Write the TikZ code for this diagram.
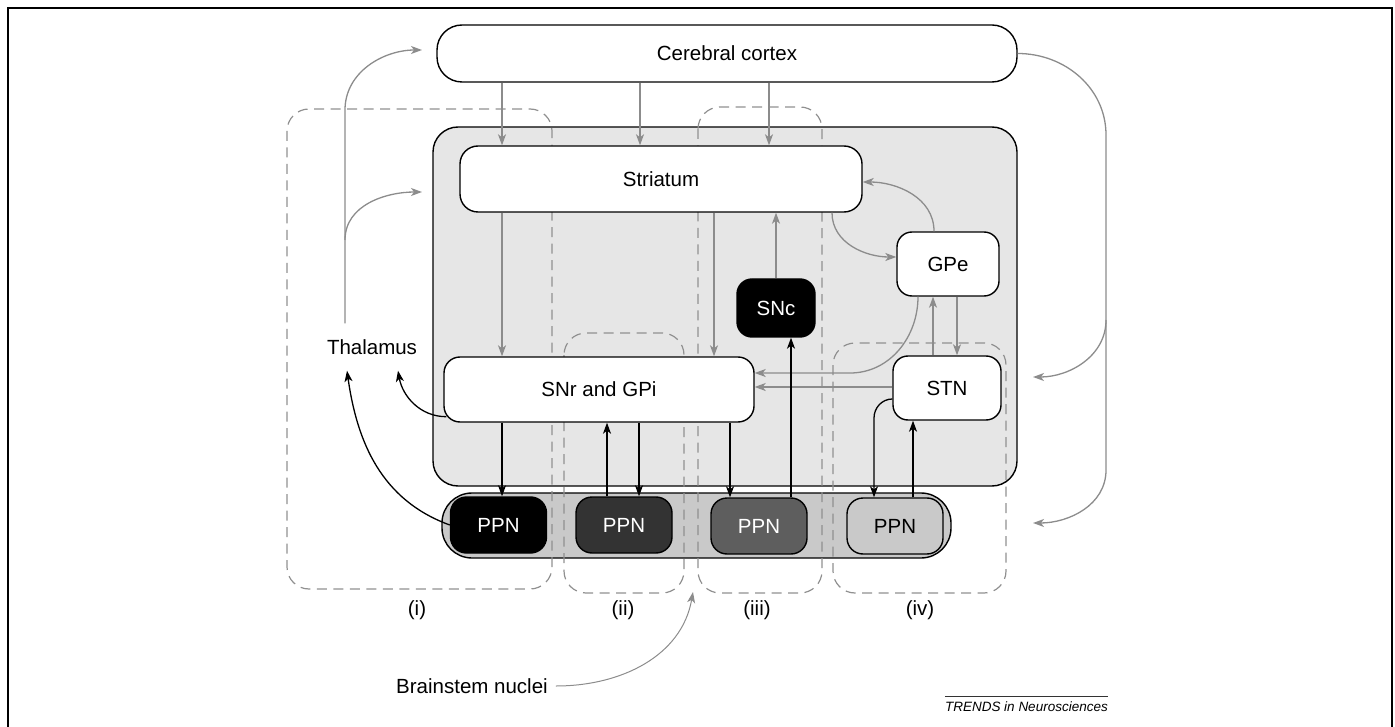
\documentclass[tikz,border=0pt]{standalone}
\usepackage{fontspec}
\setmainfont{Liberation Sans}
\usetikzlibrary{arrows.meta}
\definecolor{gcol}{HTML}{8C8C8C}
\definecolor{dcol}{HTML}{909090}
\definecolor{bgfill}{HTML}{E6E6E6}
\definecolor{barfill}{HTML}{C9C9C9}
\definecolor{ppntwo}{HTML}{333333}
\definecolor{ppnthree}{HTML}{5E5E5E}
\newcommand{\lblfont}{\fontsize{20.5}{24}\selectfont}
\begin{document}
\begin{tikzpicture}[x=1pt,y=-1pt,
  bx/.style={draw=black,line width=1.4pt,fill=white,inner sep=0pt,font=\lblfont},
  gline/.style={draw=gcol,line width=1.3pt,-{Stealth[length=11pt,width=8pt,inset=3pt]}},
  kline/.style={draw=black,line width=1.3pt,-{Stealth[length=11pt,width=8pt,inset=3pt]}},
  dsh/.style={draw=dcol,line width=1.2pt,dash pattern=on 10pt off 6.5pt,rounded corners=22pt},
  lbl/.style={inner sep=0pt,font=\lblfont},
  ppn/.style={bx,rounded corners=16pt,minimum width=96pt,minimum height=56pt}
]
\useasboundingbox (0,0) rectangle (1395,727);
% frame
\draw[line width=2pt] (8,727) -- (8,8) -- (1392,8) -- (1392,727);
% background regions
\node[draw=black,line width=1.4pt,fill=bgfill,rounded corners=25pt,minimum width=584pt,minimum height=359pt,inner sep=0pt] (bg) at (725,306.5) {};
\node[draw=black,line width=1.4pt,fill=barfill,rounded corners=30pt,minimum width=509pt,minimum height=65pt,inner sep=0pt] (bar) at (696.5,525.5) {};
% dashed groups
\draw[dsh] (287,109) rectangle (552,589);
\draw[dsh] (564,333) rectangle (684,593);
\draw[dsh] (698,107) rectangle (822,593);
\draw[dsh] (833,343) rectangle (1006,593);
% boxes
\node[bx,rounded corners=25pt,minimum width=580pt,minimum height=57pt] (ctx) at (727,53.5) {Cerebral cortex};
\node[bx,rounded corners=18pt,minimum width=402pt,minimum height=66pt] (str) at (661,179) {Striatum};
\node[bx,rounded corners=15pt,minimum width=102pt,minimum height=64pt] (gpe) at (948,264) {GPe};
\node[bx,rounded corners=15pt,fill=black,text=white,minimum width=78pt,minimum height=58pt] (snc) at (776,308) {SNc};
\node[bx,rounded corners=16pt,minimum width=310pt,minimum height=65pt] (snr) at (599,389.5) {SNr and GPi};
\node[bx,rounded corners=15pt,minimum width=108pt,minimum height=64pt] (stn) at (947,388) {STN};
\node[ppn,fill=black,text=white] (ppn1) at (498.5,525) {PPN};
\node[ppn,fill=ppntwo,text=white] (ppn2) at (624,525) {PPN};
\node[ppn,fill=ppnthree,text=white] (ppn3) at (759,526) {PPN};
\node[ppn,fill=barfill] (ppn4) at (895,526) {PPN};
% labels
\node[lbl,inner ysep=16pt] (thal) at (372,347) {Thalamus};
\node[lbl] (li) at (417,610) {(i)};
\node[lbl] (lii) at (623,610) {(ii)};
\node[lbl] (liii) at (757,610) {(iii)};
\node[lbl] (liv) at (920,610) {(iv)};
\node[lbl] (bsn) at (472,686) {Brainstem nuclei};
\node[inner sep=0pt,font=\fontsize{13.5}{16}\selectfont\itshape,anchor=base east] (trends) at (1108,711) {TRENDS in Neurosciences};
\draw[line width=0.8pt,draw=black!80] (trends.north west |- 0,696) -- (trends.north east |- 0,696);
% free coordinates
\coordinate (ctxin) at (422,50);
\coordinate (strin) at (422,192);
\coordinate (thbr) at (345,240);
\coordinate (rin1) at (1033,377);
\coordinate (rin2) at (1033,523);
\coordinate (bsin) at (693,592);
% gray connectors
\foreach \xx in {502,640,769} \draw[gline] (ctx.south -| \xx,0) -- (str.north -| \xx,0);
\draw[gline] (str.south -| 502,0) -- (snr.north -| 502,0);
\draw[gline] (str.south -| 714,0) -- (snr.north -| 714,0);
\draw[gline] (snc.north) -- (str.south -| snc.north);
\draw[gline] (str.south -| 832,0) to[out=-90,in=180] (gpe.west |- 0,257);
\draw[gline] (gpe.north -| 934,0) to[out=90,in=0] (str.east |- 0,182);
\draw[gline] (gpe.south -| 918,0) to[out=-90,in=0] (850,373) -- (snr.east |- 0,373);
\draw[gline] (stn.west |- 0,387) -- (snr.east |- 0,387);
\draw[gline] (stn.north -| 933,0) -- (gpe.south -| 933,0);
\draw[gline] (gpe.south -| 957,0) -- (stn.north -| 957,0);
\draw[gline] (thal.north -| 345,0) -- (345,110) to[out=90,in=180] (ctxin);
\draw[gline] (thbr) to[out=90,in=180] (strin);
\draw[gline] (ctx.east) to[out=0,in=90] (1106,135) -- (1106,470) to[out=-90,in=0] (rin2);
\draw[gline] (1106,320) to[out=-90,in=0] (rin1);
\draw[gline,line width=1pt] (bsn.east) ++(8,0) to[out=0,in=-100] (bsin);
% black connectors
\draw[kline] (snr.south west) ++(3,-6) to[out=180,in=-80] (thal.south -| 398,0);
\draw[kline] (ppn1.west) to[out=160,in=-82] (thal.south -| 347,0);
\draw[kline] (snr.south -| 502,0) -- (ppn1.north -| 502,0);
\draw[kline] (ppn2.north -| 607,0) -- (snr.south -| 607,0);
\draw[kline] (snr.south -| 639,0) -- (ppn2.north -| 639,0);
\draw[kline] (snr.south -| 730,0) -- (ppn3.north -| 730,0);
\draw[kline] (ppn3.north -| 791,0) -- (snc.south -| 791,0);
\draw[kline] (stn.west |- 0,399) to[out=180,in=90] (874,418) -- (ppn4.north -| 874,0);
\draw[kline] (ppn4.north -| 913,0) -- (stn.south -| 913,0);
\end{tikzpicture}
\end{document}
